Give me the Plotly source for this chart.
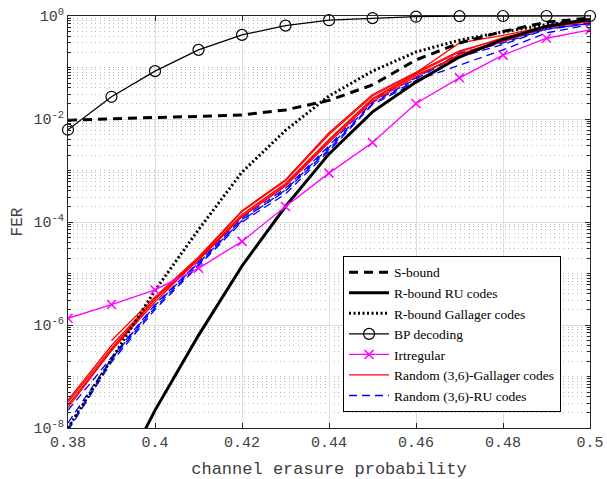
import plotly.graph_objects as go

# ---------------- data ----------------
x = [0.38, 0.39, 0.40, 0.41, 0.42, 0.43, 0.44, 0.45, 0.46, 0.47, 0.48, 0.49, 0.50]

s_bound = [9.5e-3, 1.02e-2, 1.07e-2, 1.12e-2, 1.2e-2, 1.5e-2, 2.3e-2, 4.6e-2, 1.4e-1, 3.0e-1, 5.0e-1, 7.6e-1, 9.1e-1]
r_bound_ru = [None, 5.0e-10, 2.2e-8, 6.3e-7, 1.4e-5, 2.0e-4, 2.1e-3, 1.38e-2, 5.2e-2, 1.6e-1, 3.5e-1, 6.3e-1, 8.7e-1]
r_bound_gal = [1.0e-8, 2.2e-7, 4.7e-6, 7.1e-5, 9.3e-4, 6.0e-3, 2.8e-2, 8.5e-2, 2.0e-1, 3.4e-1, 4.9e-1, 6.8e-1, 8.5e-1]
bp = [6.2e-3, 2.7e-2, 8.5e-2, 2.2e-1, 4.3e-1, 6.5e-1, 8.3e-1, 9.1e-1, 9.7e-1, 9.9e-1, 1.0, 1.0, 1.0]
irregular = [1.35e-6, 2.5e-6, 4.8e-6, 1.26e-5, 4.2e-5, 2.0e-4, 8.9e-4, 3.5e-3, 2.0e-2, 6.3e-2, 1.74e-1, 3.7e-1, 5.4e-1]

random_gallager = [
    [3.2e-8, 3.5e-7, 3.2e-6, 2.0e-5, 1.6e-4, 6.3e-4, 5.0e-3, 2.8e-2, 7.9e-2, 3.0e-1, 4.2e-1, 6.3e-1, 8.3e-1],
    [2.8e-8, 3.2e-7, 2.8e-6, 1.9e-5, 1.4e-4, 5.6e-4, 4.0e-3, 2.5e-2, 7.6e-2, 2.0e-1, 3.8e-1, 6.2e-1, 8.1e-1],
    [2.5e-8, 3.2e-7, 3.2e-6, 1.8e-5, 1.26e-4, 5.0e-4, 3.5e-3, 2.2e-2, 6.6e-2, 1.8e-1, 3.5e-1, 6.0e-1, 7.9e-1],
    [None, 5.0e-7, 3.5e-6, 2.1e-5, 1.66e-4, 6.6e-4, 5.4e-3, 3.0e-2, 8.1e-2, 2.1e-1, 3.7e-1, 6.3e-1, 8.3e-1],
    [3.5e-8, 4.0e-7, 3.2e-6, 1.9e-5, 1.3e-4, 5.2e-4, 3.8e-3, 2.4e-2, 7.1e-2, 1.66e-1, 3.2e-1, 6.0e-1, 7.9e-1],
]
random_ru = [
    [2.2e-8, 2.4e-7, 2.5e-6, 1.66e-5, 1.2e-4, 4.5e-4, 3.0e-3, 2.4e-2, 6.3e-2, 1.9e-1, 3.2e-1, 5.8e-1, 7.4e-1],
    [8.9e-9, 1.9e-7, 2.0e-6, 1.4e-5, 1.0e-4, 3.5e-4, 2.4e-3, 1.9e-2, 5.2e-2, 1.6e-1, 2.8e-1, 5.5e-1, 7.1e-1],
    [1.0e-8, 2.1e-7, 2.2e-6, 1.5e-5, 1.12e-4, 4.0e-4, 2.6e-3, 2.0e-2, 5.6e-2, 1.12e-1, 2.2e-1, 4.7e-1, 6.8e-1],
    [1.26e-8, 2.2e-7, 2.4e-6, 1.6e-5, 1.07e-4, 4.2e-4, 2.8e-3, 2.1e-2, 6.0e-2, 1.8e-1, 3.0e-1, 5.6e-1, 7.2e-1],
]

x_ticks = [0.38, 0.40, 0.42, 0.44, 0.46, 0.48, 0.50]
x_ticklabels = ["0.38", "0.4", "0.42", "0.44", "0.46", "0.48", "0.5"]
y_ticks = [1e-8, 1e-6, 1e-4, 1e-2, 1]
y_ticklabels = ["10<sup>-8</sup>", "10<sup>-6</sup>", "10<sup>-4</sup>", "10<sup>-2</sup>", "10<sup>0</sup>"]

# ---------------- figure ----------------
fig = go.Figure()

for i, ys in enumerate(random_ru):
    fig.add_trace(go.Scatter(x=x, y=ys, mode="lines", name="Random (3,6)-RU codes",
                             line=dict(color="#0000ff", width=1.3, dash="8px,5px"),
                             legendgroup="ru", showlegend=(i == 0), legendrank=7))
for i, ys in enumerate(random_gallager):
    fig.add_trace(go.Scatter(x=x, y=ys, mode="lines", name="Random (3,6)-Gallager codes",
                             line=dict(color="#ff0000", width=1.3),
                             legendgroup="gal", showlegend=(i == 0), legendrank=6))

fig.add_trace(go.Scatter(x=x, y=s_bound, mode="lines", name="S-bound",
                         line=dict(color="black", width=3, dash="9px,6px"), legendrank=1))
fig.add_trace(go.Scatter(x=x, y=r_bound_ru, mode="lines", name="R-bound RU codes",
                         line=dict(color="black", width=3), legendrank=2))
fig.add_trace(go.Scatter(x=x, y=r_bound_gal, mode="lines", name="R-bound Gallager codes",
                         line=dict(color="black", width=3, dash="2px,2.5px"), legendrank=3))
fig.add_trace(go.Scatter(x=x, y=bp, mode="lines+markers", name="BP decoding",
                         line=dict(color="black", width=1.2),
                         marker=dict(symbol="circle-open", size=11, color="black", line=dict(width=1.2)),
                         cliponaxis=False, legendrank=4))
fig.add_trace(go.Scatter(x=x, y=irregular, mode="lines+markers", name="Irtregular",
                         line=dict(color="#ff00ff", width=1.3),
                         marker=dict(symbol="x-thin", size=9, color="#ff00ff",
                                     line=dict(width=1.5, color="#ff00ff")),
                         legendrank=5))

minor_vals = []
for e in range(-8, 0):
    for k in range(1, 10):
        v = k * 10.0 ** e
        if k == 1 and e % 2 == 0:
            continue
        minor_vals.append(v)

axis_color = "#262626"
mono = "Liberation Mono, Courier New, monospace"
tick_font = dict(family=mono, size=15, color="#404040")

fig.update_layout(
    width=607, height=479,
    margin=dict(l=68, r=17, t=16, b=51),
    paper_bgcolor="white", plot_bgcolor="white",
    showlegend=True,
    legend=dict(x=0.9445, y=0.039, xanchor="right", yanchor="bottom",
                bgcolor="white", bordercolor="black", borderwidth=1,
                font=dict(family="Liberation Serif, Times New Roman, serif", size=13.5, color="black"),
                tracegroupgap=0, itemwidth=40),
    xaxis=dict(range=[0.38, 0.5], tickvals=x_ticks, ticktext=x_ticklabels,
               ticks="inside", ticklen=5, tickcolor=axis_color, automargin=False,
               showline=True, linecolor=axis_color, linewidth=1, mirror="ticks",
               showgrid=True, gridcolor="#dedede", gridwidth=1, zeroline=False,
               tickfont=tick_font,
               title=dict(text="channel erasure probability", standoff=13,
                          font=dict(family=mono, size=17, color="#404040"))),
    yaxis=dict(type="log", range=[-8, 0], tickvals=y_ticks, ticktext=y_ticklabels,
               ticks="inside", ticklen=5, tickcolor=axis_color, automargin=False,
               showline=True, linecolor=axis_color, linewidth=1, mirror="ticks",
               showgrid=True, gridcolor="#dedede", gridwidth=1, zeroline=False,
               tickfont=tick_font,
               minor=dict(tickmode="array", tickvals=minor_vals, ticks="inside", ticklen=3,
                          tickcolor=axis_color, showgrid=True, gridcolor="#b8b8b8",
                          griddash="1px,3.5px", gridwidth=1),
               title=dict(text="FER", standoff=6,
                          font=dict(family=mono, size=16, color="#404040"))),
)

fig.write_html("out.html")
